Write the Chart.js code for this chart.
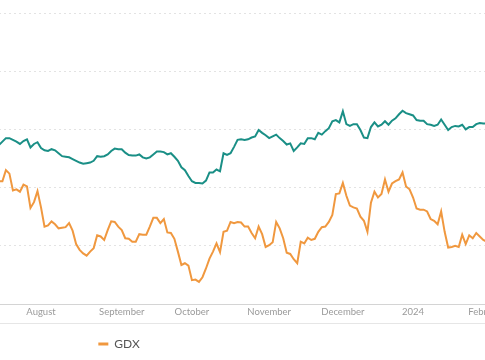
<!DOCTYPE html>
<html><head><meta charset="utf-8">
<script src="https://cdn.jsdelivr.net/npm/chart.js@4/dist/chart.umd.min.js"></script>
<style>
html,body{margin:0;padding:0;background:#fff;overflow:hidden;width:485px;height:360px}
#wrap{position:absolute;left:-281px;top:0;width:800px;height:360px}
</style></head><body>
<div id="wrap"><canvas id="c" width="800" height="360"></canvas></div>
<script>
// Trading days shown (category axis of sessions)
const tradingDays = [
'2023-07-14','2023-07-17','2023-07-18','2023-07-19','2023-07-20','2023-07-21','2023-07-24','2023-07-25','2023-07-26','2023-07-27','2023-07-28','2023-07-31',
'2023-08-01','2023-08-02','2023-08-03','2023-08-04','2023-08-07','2023-08-08','2023-08-09','2023-08-10','2023-08-11','2023-08-14','2023-08-15','2023-08-16','2023-08-17','2023-08-18','2023-08-21','2023-08-22','2023-08-23','2023-08-24','2023-08-25','2023-08-28','2023-08-29','2023-08-30','2023-08-31',
'2023-09-01','2023-09-05','2023-09-06','2023-09-07','2023-09-08','2023-09-11','2023-09-12','2023-09-13','2023-09-14','2023-09-15','2023-09-18','2023-09-19','2023-09-20','2023-09-21','2023-09-22','2023-09-25','2023-09-26','2023-09-27','2023-09-28','2023-09-29',
'2023-10-02','2023-10-03','2023-10-04','2023-10-05','2023-10-06','2023-10-09','2023-10-10','2023-10-11','2023-10-12','2023-10-13','2023-10-16','2023-10-17','2023-10-18','2023-10-19','2023-10-20','2023-10-23','2023-10-24','2023-10-25','2023-10-26','2023-10-27','2023-10-30','2023-10-31',
'2023-11-01','2023-11-02','2023-11-03','2023-11-06','2023-11-07','2023-11-08','2023-11-09','2023-11-10','2023-11-13','2023-11-14','2023-11-15','2023-11-16','2023-11-17','2023-11-20','2023-11-21','2023-11-22','2023-11-24','2023-11-27','2023-11-28','2023-11-29','2023-11-30',
'2023-12-01','2023-12-04','2023-12-05','2023-12-06','2023-12-07','2023-12-08','2023-12-11','2023-12-12','2023-12-13','2023-12-14','2023-12-15','2023-12-18','2023-12-19','2023-12-20','2023-12-21','2023-12-22','2023-12-26','2023-12-27','2023-12-28','2023-12-29',
'2024-01-02','2024-01-03','2024-01-04','2024-01-05','2024-01-08','2024-01-09','2024-01-10','2024-01-11','2024-01-12','2024-01-16','2024-01-17','2024-01-18','2024-01-19','2024-01-22','2024-01-23','2024-01-24','2024-01-25','2024-01-26','2024-01-29','2024-01-30','2024-01-31',
'2024-02-01','2024-02-02'
];

// Teal series (unlabelled in the visible legend)
const tealValues = [
27.3,27.9,28.5,28.5,28.2,27.9,27.5,28.0,28.3,26.9,27.5,27.8,
26.8,26.4,26.3,26.6,26.4,25.9,25.4,25.3,25.2,24.9,24.6,24.3,24.1,24.2,24.3,24.6,25.4,25.3,25.4,25.7,26.3,26.7,26.6,
26.6,26.0,25.6,25.5,25.5,25.7,25.2,25.0,25.2,25.7,26.2,26.2,26.1,25.7,25.9,25.3,24.6,23.5,23.0,22.0,
21.1,20.8,20.8,20.7,21.2,22.6,22.6,23.1,22.8,25.9,25.6,25.9,27.0,28.2,28.3,28.2,28.3,28.6,28.8,29.9,29.4,29.0,
28.5,28.8,29.1,28.5,28.0,27.4,27.6,26.3,26.9,27.6,27.5,28.5,28.5,28.3,29.4,29.1,29.7,30.2,31.4,31.6,31.2,
33.1,30.9,30.6,30.9,30.9,29.9,28.6,28.5,30.4,31.2,30.5,30.8,31.4,30.8,31.5,31.9,32.6,33.2,32.8,32.6,
32.4,31.6,31.5,31.5,30.9,30.8,30.6,30.8,31.7,30.8,29.9,30.4,30.6,30.5,30.8,30.0,30.4,30.4,30.9,31.1,31.0,
31.0,31.1
];

// GDX series
const gdxValues = [
21.1,21.1,23.0,22.4,19.5,19.7,19.3,20.5,20.2,16.5,17.5,19.4,
16.6,13.3,13.5,14.2,13.7,13.0,13.1,13.2,13.9,12.6,10.3,9.3,8.7,8.3,9.0,9.6,11.8,11.6,11.0,12.7,14.2,14.1,13.3,
12.7,11.3,11.2,10.7,10.7,12.0,11.9,11.9,13.3,14.8,14.8,13.9,14.6,12.3,12.2,11.2,9.0,6.7,7.0,6.6,
4.1,4.2,3.8,4.6,6.1,7.8,9.0,10.4,8.9,12.4,12.6,14.1,13.9,14.1,14.0,13.3,13.3,12.2,11.3,13.3,12.0,9.8,
10.1,10.6,14.1,13.0,11.3,8.8,8.6,7.7,7.0,10.7,10.4,11.4,11.0,11.2,12.4,13.2,13.3,14.1,15.3,18.9,19.0,
20.8,18.6,16.9,16.6,16.4,15.0,14.3,12.4,17.4,19.3,18.3,18.9,21.4,19.3,20.7,21.1,21.4,22.6,20.2,19.7,
18.3,16.4,16.2,16.2,15.9,14.6,14.3,13.7,15.9,12.4,9.7,9.8,10.0,9.8,11.9,10.3,11.8,11.3,12.2,11.6,11.0,
10.7,10.7
];

// Month tick labels keyed by YYYY-MM (placed on first session of the month)
const monthNames = {'2023-08':'August','2023-09':'September','2023-10':'October','2023-11':'November','2023-12':'December','2024-01':'2024','2024-02':'February'};
const yTicks = [0,10,20,30,40,50];

const tealColor = '#1a8f86';
const gdxColor = '#f0983f';

const monthStartIdx = [];
tradingDays.forEach((d,i)=>{ const m=d.slice(0,7); if(i>0 && tradingDays[i-1].slice(0,7)!==m && monthNames[m]) monthStartIdx.push(i); });
const labelFor = {};
monthStartIdx.forEach(i=>{ labelFor[i]=monthNames[tradingDays[i].slice(0,7)]; });

const axisFrame = {
  id:'axisFrame',
  afterDraw(chart){
    const s=chart.scales.x, ctx=chart.ctx;
    ctx.save(); ctx.strokeStyle='#e6e6e6'; ctx.lineWidth=1;
    const yb=Math.round(s.bottom)-0.5;
    ctx.beginPath(); ctx.moveTo(s.left,yb); ctx.lineTo(s.right,yb); ctx.stroke(); ctx.restore();
  }
};

new Chart(document.getElementById('c'), {
  type:'line',
  data:{
    datasets:[
      {label:'Benchmark', data: tealValues.map((v,i)=>({x:i,y:v})), borderColor:tealColor, backgroundColor:tealColor, borderWidth:2, pointRadius:0, tension:0},
      {label:'GDX', data: gdxValues.map((v,i)=>({x:i,y:v})), borderColor:gdxColor, backgroundColor:gdxColor, borderWidth:2, pointRadius:0, tension:0}
    ]
  },
  options:{
    responsive:false, animation:false, devicePixelRatio:1,
    layout:{autoPadding:false, padding:{top:13,left:0,right:0,bottom:0}},
    scales:{
      x:{type:'linear', min:-79.74, max:148.18,
        afterBuildTicks:(s)=>{ s.ticks = monthStartIdx.map(v=>({value:v})); },
        afterFit:(s)=>{ s.height=20; },
        grid:{display:false, drawTicks:false},
        border:{display:true, color:'#d4d4d4', width:1},
        ticks:{autoSkip:false, maxRotation:0, padding:2, color:'#9a9a9a', font:{family:'Lato', size:9.5},
          callback:(v)=>labelFor[v]||''}
      },
      y:{min:0, max:50,
        afterBuildTicks:(s)=>{ s.ticks = yTicks.map(v=>({value:v})); },
        ticks:{display:false},
        grid:{color:'#e3e3e3', lineWidth:1, drawTicks:false},
        border:{display:false, dash:[2,3]}
      }
    },
    plugins:{
      tooltip:{enabled:false},
      legend:{position:'bottom', align:'center',
        labels:{boxWidth:10, boxHeight:3, padding:14, color:'#555', font:{family:'Lato', size:12},
          generateLabels:(chart)=>Chart.defaults.plugins.legend.labels.generateLabels(chart)
            .filter(l=>l.text==='GDX').map(l=>Object.assign({},l,{lineWidth:0, fillStyle:gdxColor, strokeStyle:gdxColor}))}
      }
    }
  },
  plugins:[axisFrame]
});
</script>
</body></html>
